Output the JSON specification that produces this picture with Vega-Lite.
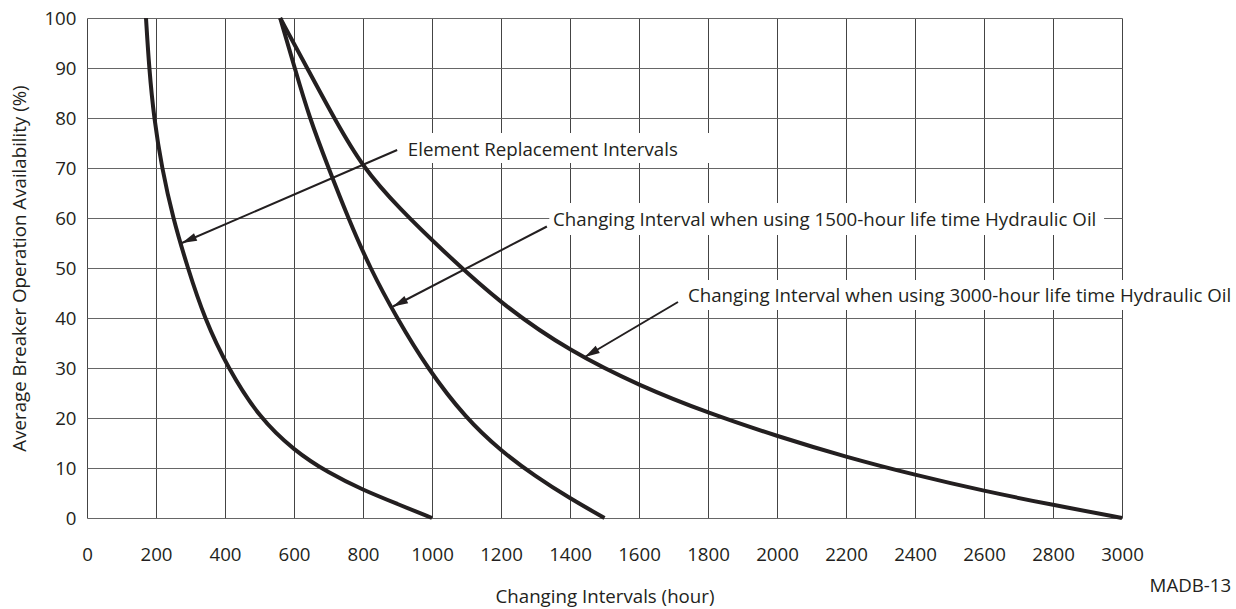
{
  "$schema": "https://vega.github.io/schema/vega-lite/v6.json",
  "autosize": {"type": "none"},
  "padding": {"left": 87, "top": 18, "right": 114, "bottom": 91},
  "width": 1035,
  "height": 500,
  "background": "white",
  "config": {
    "font": "Open Sans",
    "view": {"stroke": null},
    "axis": {"labelColor": "#231f20", "titleColor": "#231f20", "labelFontSize": 18.7, "titleFontSize": 18.7, "titleFontWeight": "normal", "ticks": false, "domain": false, "gridOpacity": 1, "gridWidth": 1}
  },
  "datasets": {
    "curves": [
      {"series": "Element Replacement Intervals", "hours": 171, "avail": 100},
      {"series": "Element Replacement Intervals", "hours": 180, "avail": 90},
      {"series": "Element Replacement Intervals", "hours": 194, "avail": 80},
      {"series": "Element Replacement Intervals", "hours": 217, "avail": 70},
      {"series": "Element Replacement Intervals", "hours": 249, "avail": 60},
      {"series": "Element Replacement Intervals", "hours": 292, "avail": 50},
      {"series": "Element Replacement Intervals", "hours": 340, "avail": 40},
      {"series": "Element Replacement Intervals", "hours": 408, "avail": 30},
      {"series": "Element Replacement Intervals", "hours": 500, "avail": 20},
      {"series": "Element Replacement Intervals", "hours": 600, "avail": 13.5},
      {"series": "Element Replacement Intervals", "hours": 700, "avail": 9},
      {"series": "Element Replacement Intervals", "hours": 800, "avail": 5.6},
      {"series": "Element Replacement Intervals", "hours": 900, "avail": 2.8},
      {"series": "Element Replacement Intervals", "hours": 1000, "avail": 0},
      {"series": "1500-hour Hydraulic Oil", "hours": 560, "avail": 100},
      {"series": "1500-hour Hydraulic Oil", "hours": 602, "avail": 90},
      {"series": "1500-hour Hydraulic Oil", "hours": 645, "avail": 80},
      {"series": "1500-hour Hydraulic Oil", "hours": 700, "avail": 70},
      {"series": "1500-hour Hydraulic Oil", "hours": 757, "avail": 60},
      {"series": "1500-hour Hydraulic Oil", "hours": 820, "avail": 50},
      {"series": "1500-hour Hydraulic Oil", "hours": 898, "avail": 40},
      {"series": "1500-hour Hydraulic Oil", "hours": 986, "avail": 30},
      {"series": "1500-hour Hydraulic Oil", "hours": 1097, "avail": 20},
      {"series": "1500-hour Hydraulic Oil", "hours": 1200, "avail": 13.4},
      {"series": "1500-hour Hydraulic Oil", "hours": 1300, "avail": 8.3},
      {"series": "1500-hour Hydraulic Oil", "hours": 1400, "avail": 3.9},
      {"series": "1500-hour Hydraulic Oil", "hours": 1500, "avail": 0},
      {"series": "3000-hour Hydraulic Oil", "hours": 560, "avail": 100},
      {"series": "3000-hour Hydraulic Oil", "hours": 638, "avail": 90},
      {"series": "3000-hour Hydraulic Oil", "hours": 716, "avail": 80},
      {"series": "3000-hour Hydraulic Oil", "hours": 800, "avail": 70},
      {"series": "3000-hour Hydraulic Oil", "hours": 907, "avail": 61.8},
      {"series": "3000-hour Hydraulic Oil", "hours": 1023, "avail": 54},
      {"series": "3000-hour Hydraulic Oil", "hours": 1203, "avail": 42.6},
      {"series": "3000-hour Hydraulic Oil", "hours": 1403, "avail": 33.2},
      {"series": "3000-hour Hydraulic Oil", "hours": 1603, "avail": 26.4},
      {"series": "3000-hour Hydraulic Oil", "hours": 1800, "avail": 21},
      {"series": "3000-hour Hydraulic Oil", "hours": 2003, "avail": 16.3},
      {"series": "3000-hour Hydraulic Oil", "hours": 2200, "avail": 12.2},
      {"series": "3000-hour Hydraulic Oil", "hours": 2400, "avail": 8.6},
      {"series": "3000-hour Hydraulic Oil", "hours": 2600, "avail": 5.4},
      {"series": "3000-hour Hydraulic Oil", "hours": 2800, "avail": 2.6},
      {"series": "3000-hour Hydraulic Oil", "hours": 3000, "avail": 0}
    ],
    "boxes": [
      {"id": "b1", "x0": 907, "x1": 1820, "y0": 71, "y1": 77},
      {"id": "b2", "x0": 1340, "x1": 2948, "y0": 56.6, "y1": 63},
      {"id": "b3", "x0": 1719, "x1": 3330, "y0": 41.6, "y1": 47.6}
    ],
    "labels": [
      {"text": "Element Replacement Intervals", "x": 930, "y": 72.4},
      {"text": "Changing Interval when using 1500-hour life time Hydraulic Oil", "x": 1351, "y": 58.4},
      {"text": "Changing Interval when using 3000-hour life time Hydraulic Oil", "x": 1742, "y": 43.3},
      {"text": "MADB-13", "x": 3080, "y": -14.8}
    ],
    "arrows": [
      {"id": "a1", "x": 899, "y": 73.6, "tx": 275, "ty": 55},
      {"id": "a2", "x": 1333, "y": 58.3, "tx": 887, "ty": 42.3},
      {"id": "a3", "x": 1713, "y": 43.2, "tx": 1443, "ty": 32.2}
    ]
  },
  "layer": [
    {
      "data": {"name": "curves"},
      "mark": {"type": "line", "strokeWidth": 0, "opacity": 0},
      "encoding": {
        "x": {"field": "hours", "type": "quantitative", "scale": {"domain": [0, 3000], "nice": false},
          "axis": {"values": [0,200,400,600,800,1000,1200,1400,1600,1800,2000,2200,2400,2600,2800,3000], "format": "d", "title": "Changing Intervals (hour)", "labelPadding": 27, "titlePadding": 24, "gridColor": "#444", "labelFlush": false, "labelDx": -7}},
        "y": {"field": "avail", "type": "quantitative", "scale": {"domain": [0, 100], "nice": false},
          "axis": {"values": [0,10,20,30,40,50,60,70,80,90,100], "format": "d", "title": "Average Breaker Operation Availability (%)", "labelPadding": 11, "titlePadding": 14, "gridColor": "#666"}},
        "detail": {"field": "series"}
      }
    },
    {
      "data": {"name": "boxes"},
      "mark": {"type": "rect", "fill": "white"},
      "encoding": {
        "x": {"field": "x0", "type": "quantitative"},
        "x2": {"field": "x1"},
        "y": {"field": "y0", "type": "quantitative"},
        "y2": {"field": "y1"}
      }
    },
    {
      "data": {"name": "labels"},
      "mark": {"type": "text", "align": "left", "baseline": "alphabetic", "fontSize": 18.7, "color": "#231f20"},
      "encoding": {
        "x": {"field": "x", "type": "quantitative"},
        "y": {"field": "y", "type": "quantitative"},
        "text": {"field": "text"}
      }
    },
    {
      "data": {"name": "curves"},
      "mark": {"type": "line", "color": "#231f20", "strokeWidth": 4, "interpolate": "basis"},
      "encoding": {
        "x": {"field": "hours", "type": "quantitative"},
        "y": {"field": "avail", "type": "quantitative"},
        "detail": {"field": "series"}
      }
    },
    {
      "data": {"name": "arrows"},
      "mark": {"type": "rule", "color": "#231f20", "strokeWidth": 2},
      "encoding": {
        "x": {"field": "x", "type": "quantitative"},
        "y": {"field": "y", "type": "quantitative"},
        "x2": {"field": "tx"},
        "y2": {"field": "ty"}
      }
    },
    {
      "data": {"name": "arrows"},
      "transform": [{"filter": "datum.id === 'a1'"}],
      "mark": {"type": "point", "shape": "M0,0L-0.55,2L0.55,2Z", "size": 225, "filled": true, "color": "#231f20", "opacity": 1, "angle": 246.6},
      "encoding": {
        "x": {"field": "tx", "type": "quantitative"},
        "y": {"field": "ty", "type": "quantitative"}
      }
    },
    {
      "data": {"name": "arrows"},
      "transform": [{"filter": "datum.id === 'a2'"}],
      "mark": {"type": "point", "shape": "M0,0L-0.55,2L0.55,2Z", "size": 225, "filled": true, "color": "#231f20", "opacity": 1, "angle": 242.5},
      "encoding": {
        "x": {"field": "tx", "type": "quantitative"},
        "y": {"field": "ty", "type": "quantitative"}
      }
    },
    {
      "data": {"name": "arrows"},
      "transform": [{"filter": "datum.id === 'a3'"}],
      "mark": {"type": "point", "shape": "M0,0L-0.55,2L0.55,2Z", "size": 225, "filled": true, "color": "#231f20", "opacity": 1, "angle": 239.4},
      "encoding": {
        "x": {"field": "tx", "type": "quantitative"},
        "y": {"field": "ty", "type": "quantitative"}
      }
    }
  ]
}
